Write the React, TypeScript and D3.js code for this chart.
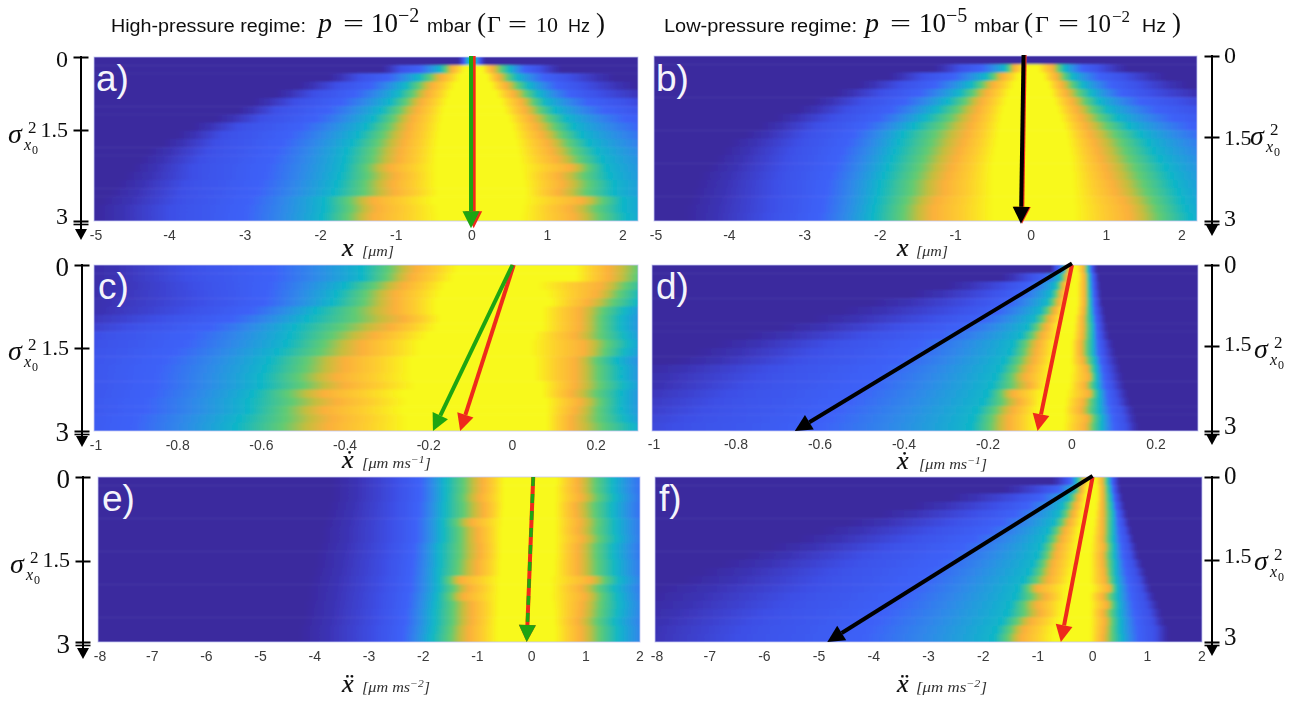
import React, { useMemo } from "react";
import * as d3 from "d3";

type Row = (number | null)[];
const _ = null;

// intensity levels reached at each listed x position of a row (left flank, then right flank)
const rowLevels = [0, 3, 5, 8, 10, 10, 8, 5, 3, 0];
const levelStops = [0, 1, 3, 4, 4.6, 5, 6.5, 7.3, 8, 9, 10];
const levelColors = ["#3a2a9e", "#3b30b0", "#3d4fe6", "#3d62f8", "#2b94e4", "#0fb6c8", "#62cb72", "#c8bd3c", "#fbb03b", "#fdcf2e", "#f8f91a"];

const rowsA: Row[] = [
  [-0.18, -0.12, -0.06, _, _, _, _, 0.06, 0.12, 0.18],
  [-1.2, -0.95, -0.42, -0.26, -0.1, 0.14, 0.27, 0.5, 0.9, 1.2],
  [-1.9, -1.5, -0.7, -0.4, -0.15, 0.2, 0.35, 0.6, 1.3, 1.9],
  [-2.3, -1.8, -0.88, -0.52, -0.22, 0.25, 0.45, 0.75, 1.5, 2.2],
  [-2.6, -2.1, -0.98, -0.58, -0.28, 0.32, 0.55, 0.88, 1.7, 2.6],
  [-2.9, -2.35, -1.08, -0.66, -0.32, 0.38, 0.65, 0.98, 2.1, 3],
  [-3.1, -2.6, -1.2, -0.72, -0.36, 0.42, 0.7, 1.1, 2.4, 3.4],
  [-3.4, -2.8, -1.3, -0.78, -0.38, 0.48, 0.78, 1.25, 2.8, 3.8],
  [-3.7, -3.1, -1.4, -0.82, -0.4, 0.52, 0.85, 1.35, 3.1, 4.1],
  [-3.9, -3.3, -1.5, -0.86, -0.42, 0.55, 0.92, 1.45, 3.4, 4.4],
  [-4.1, -3.4, -1.58, -0.9, -0.44, 0.58, 1.0, 1.55, 3.6, 4.6],
  [-4.3, -3.5, -1.65, -0.94, -0.45, 0.6, 1.05, 1.65, 3.8, 4.8],
  [-4.4, -3.6, -1.68, -0.96, -0.46, 0.62, 1.12, 1.72, 4, 5],
  [-4.5, -3.7, -1.7, -1.08, -0.46, 0.64, 1.3, 1.78, 4.1, 5.1],
  [-4.6, -3.7, -1.74, -1.0, -0.46, 0.66, 1.15, 1.82, 4.2, 5.2],
  [-4.7, -3.8, -1.78, -1.05, -0.46, 0.68, 1.2, 1.88, 4.3, 5.3],
  [-4.8, -3.85, -1.82, -1.02, -0.44, 0.7, 1.15, 1.88, 4.3, 5.3],
  [-4.9, -3.9, -1.95, -1.3, -0.5, 0.68, 1.45, 2.0, 4.4, 5.4],
  [-5, -4, -1.95, -1.25, -0.44, 0.66, 1.3, 2, 4.5, 5.5],
  [-5, -4, -1.98, -1.3, -0.42, 0.64, 1.35, 2.05, 4.5, 5.5],
];

const rowsB: Row[] = [
  [-0.12, -0.1, _, _, _, _, _, _, -0.08, -0.06],
  [-1.3, -0.95, -0.35, -0.22, -0.08, 0.09, 0.28, 0.45, 0.9, 1.3],
  [-1.9, -1.45, -0.6, -0.38, -0.16, 0.16, 0.33, 0.55, 1.25, 1.8],
  [-2.3, -1.75, -0.8, -0.5, -0.22, 0.22, 0.4, 0.68, 1.45, 2.1],
  [-2.6, -2, -0.95, -0.58, -0.28, 0.26, 0.46, 0.8, 1.6, 2.5],
  [-2.9, -2.25, -1.1, -0.65, -0.32, 0.3, 0.54, 0.9, 2, 3],
  [-3.1, -2.45, -1.25, -0.7, -0.36, 0.34, 0.6, 1.02, 2.3, 3.3],
  [-3.4, -2.65, -1.4, -0.75, -0.38, 0.38, 0.66, 1.15, 2.6, 3.6],
  [-3.6, -2.85, -1.55, -0.8, -0.4, 0.42, 0.72, 1.3, 2.9, 3.9],
  [-3.8, -3, -1.7, -0.85, -0.42, 0.46, 0.78, 1.45, 3.2, 4.2],
  [-4, -3.1, -1.75, -0.9, -0.44, 0.48, 0.84, 1.55, 3.5, 4.5],
  [-4.1, -3.2, -1.8, -0.95, -0.46, 0.5, 0.88, 1.62, 3.7, 4.7],
  [-4.2, -3.25, -1.85, -1, -0.48, 0.52, 0.92, 1.7, 3.9, 4.9],
  [-4.3, -3.3, -1.9, -1.05, -0.5, 0.52, 0.98, 1.78, 4, 5],
  [-4.4, -3.35, -1.95, -1.1, -0.5, 0.54, 1.02, 1.85, 4.1, 5.1],
  [-4.45, -3.4, -2.0, -1.15, -0.5, 0.54, 1.08, 1.9, 4.2, 5.2],
  [-4.5, -3.4, -2.02, -1.15, -0.5, 0.55, 1.12, 1.95, 4.3, 5.3],
  [-4.55, -3.45, -2.05, -1.25, -0.5, 0.55, 1.22, 2, 4.3, 5.3],
  [-4.6, -3.45, -2.08, -1.3, -0.5, 0.56, 1.28, 2.05, 4.4, 5.4],
  [-4.6, -3.5, -2.1, -1.3, -0.5, 0.56, 1.3, 2.1, 4.4, 5.4],
];

const rowsC: Row[] = [
  [-1.05, -0.78, -0.36, -0.23, -0.13, 0.15, 0.23, 0.37, 0.6, 0.8],
  [-1.05, -0.78, -0.36, -0.24, -0.14, 0.15, 0.23, 0.36, 0.6, 0.8],
  [-1.05, -0.76, -0.4, -0.26, -0.16, 0.06, 0.21, 0.33, 0.55, 0.8],
  [-1.08, -0.75, -0.42, -0.28, -0.17, 0.08, 0.2, 0.31, 0.52, 0.8],
  [-1.1, -0.75, -0.43, -0.28, -0.18, 0.09, 0.18, 0.3, 0.5, 0.8],
  [-1.1, -0.78, -0.47, -0.28, -0.18, 0.07, 0.16, 0.27, 0.48, 0.8],
  [-1.15, -0.85, -0.49, -0.26, -0.17, 0.07, 0.16, 0.26, 0.48, 0.8],
  [-1.2, -0.92, -0.52, -0.29, -0.18, 0.07, 0.16, 0.26, 0.48, 0.8],
  [-1.25, -1.0, -0.53, -0.33, -0.2, 0.05, 0.15, 0.27, 0.48, 0.8],
  [-1.3, -1.02, -0.54, -0.36, -0.22, 0.04, 0.17, 0.28, 0.5, 0.8],
  [-1.35, -1.05, -0.56, -0.36, -0.22, 0.04, 0.17, 0.27, 0.5, 0.8],
  [-1.35, -1.08, -0.58, -0.4, -0.24, 0.05, 0.15, 0.25, 0.48, 0.8],
  [-1.4, -1.1, -0.59, -0.4, -0.24, 0.05, 0.15, 0.26, 0.48, 0.8],
  [-1.4, -1.1, -0.6, -0.42, -0.24, 0.05, 0.15, 0.26, 0.48, 0.8],
  [-1.4, -1.1, -0.6, -0.4, -0.23, 0.07, 0.15, 0.27, 0.5, 0.8],
  [-1.4, -1.1, -0.62, -0.45, -0.26, 0.07, 0.14, 0.26, 0.48, 0.8],
  [-1.4, -1.12, -0.63, -0.42, -0.25, 0.08, 0.16, 0.26, 0.48, 0.8],
  [-1.4, -1.12, -0.63, -0.45, -0.26, 0.08, 0.15, 0.26, 0.5, 0.8],
  [-1.45, -1.15, -0.65, -0.43, -0.25, 0.08, 0.14, 0.27, 0.5, 0.8],
  [-1.45, -1.15, -0.66, -0.44, -0.25, 0.08, 0.14, 0.29, 0.5, 0.8],
];

const rowsD: Row[] = [
  [-0.05, -0.04, -0.02, -0.01, 0, 0.012, 0.027, 0.04, 0.05, 0.06],
  [-0.17, -0.1, -0.03, -0.012, 0, 0.014, 0.03, 0.042, 0.055, 0.065],
  [-0.3, -0.16, -0.04, -0.02, -0.005, 0.012, 0.03, 0.043, 0.056, 0.068],
  [-0.38, -0.2, -0.05, -0.025, -0.008, 0.012, 0.03, 0.044, 0.058, 0.07],
  [-0.48, -0.24, -0.06, -0.03, -0.012, 0.012, 0.03, 0.045, 0.06, 0.072],
  [-0.55, -0.28, -0.075, -0.04, -0.02, 0.01, 0.028, 0.046, 0.062, 0.078],
  [-0.62, -0.34, -0.09, -0.05, -0.025, 0.006, 0.025, 0.048, 0.065, 0.082],
  [-0.7, -0.42, -0.105, -0.06, -0.03, 0.004, 0.025, 0.05, 0.067, 0.086],
  [-0.78, -0.5, -0.12, -0.07, -0.03, 0.002, 0.024, 0.05, 0.07, 0.09],
  [-0.85, -0.58, -0.14, -0.08, -0.04, -0.002, 0.02, 0.05, 0.075, 0.1],
  [-0.9, -0.62, -0.145, -0.085, -0.04, -0.002, 0.02, 0.05, 0.078, 0.105],
  [-0.95, -0.66, -0.16, -0.09, -0.045, -0.004, 0.025, 0.055, 0.082, 0.112],
  [-1.05, -0.72, -0.17, -0.1, -0.05, -0.002, 0.035, 0.058, 0.088, 0.118],
  [-1.1, -0.75, -0.18, -0.11, -0.05, -0.006, 0.04, 0.06, 0.092, 0.124],
  [-1.1, -0.78, -0.19, -0.1, -0.06, -0.007, 0.03, 0.06, 0.097, 0.128],
  [-1.15, -0.82, -0.2, -0.14, -0.07, -0.014, 0.04, 0.065, 0.105, 0.135],
  [-1.2, -0.85, -0.21, -0.125, -0.075, -0.017, 0.025, 0.065, 0.11, 0.14],
  [-1.25, -0.88, -0.225, -0.14, -0.08, -0.02, 0.02, 0.065, 0.12, 0.15],
  [-1.3, -0.92, -0.235, -0.15, -0.085, -0.02, 0.035, 0.07, 0.125, 0.155],
  [-1.3, -0.95, -0.24, -0.15, -0.085, -0.022, 0.03, 0.07, 0.13, 0.16],
];

const rowsE: Row[] = [
  [-3.7, -2.5, -1.6, -0.9, -0.5, 0.45, 0.85, 1.5, 2.7, 3.8],
  [-3.7, -2.5, -1.6, -0.9, -0.5, 0.42, 0.85, 1.5, 2.7, 3.8],
  [-3.7, -2.5, -1.6, -0.95, -0.5, 0.42, 0.9, 1.55, 2.7, 3.8],
  [-3.75, -2.55, -1.62, -0.88, -0.5, 0.42, 0.8, 1.5, 2.7, 3.8],
  [-3.8, -2.55, -1.62, -0.88, -0.52, 0.42, 0.82, 1.5, 2.7, 3.8],
  [-3.85, -2.6, -1.65, -1.1, -0.52, 0.42, 0.88, 1.55, 2.8, 3.9],
  [-3.9, -2.6, -1.65, -0.98, -0.55, 0.42, 0.85, 1.55, 2.8, 3.9],
  [-3.9, -2.6, -1.65, -0.98, -0.55, 0.42, 0.92, 1.58, 2.8, 3.9],
  [-3.95, -2.65, -1.7, -0.95, -0.55, 0.42, 0.85, 1.52, 2.8, 3.9],
  [-4, -2.65, -1.7, -0.95, -0.55, 0.42, 0.85, 1.52, 2.8, 3.9],
  [-4, -2.7, -1.7, -1.0, -0.56, 0.4, 0.85, 1.55, 2.85, 4],
  [-4.05, -2.7, -1.72, -1.0, -0.56, 0.4, 0.85, 1.55, 2.85, 4],
  [-4.1, -2.75, -1.72, -1.3, -0.58, 0.34, 1.08, 1.62, 2.9, 4],
  [-4.15, -2.75, -1.72, -1.15, -0.58, 0.36, 0.9, 1.55, 2.9, 4],
  [-4.15, -2.8, -1.75, -1.25, -0.58, 0.34, 0.98, 1.6, 2.9, 4],
  [-4.2, -2.8, -1.78, -1.1, -0.6, 0.38, 0.92, 1.62, 3, 4.1],
  [-4.2, -2.85, -1.8, -1.1, -0.6, 0.4, 0.9, 1.6, 3, 4.1],
  [-4.25, -2.85, -1.8, -1.1, -0.62, 0.4, 0.85, 1.55, 3, 4.1],
  [-4.3, -2.9, -1.82, -1.15, -0.62, 0.42, 0.9, 1.6, 3, 4.1],
  [-4.3, -2.9, -1.85, -1.15, -0.62, 0.42, 0.9, 1.6, 3, 4.1],
];

const rowsF: Row[] = [
  [-0.75, -0.5, -0.3, -0.15, -0.08, 0.06, 0.17, 0.3, 0.4, 0.5],
  [-1.65, -0.9, -0.35, -0.2, -0.1, 0.08, 0.18, 0.32, 0.42, 0.52],
  [-2.6, -1.4, -0.45, -0.25, -0.12, 0.08, 0.18, 0.34, 0.45, 0.56],
  [-3.3, -1.8, -0.55, -0.3, -0.14, 0.06, 0.18, 0.36, 0.48, 0.6],
  [-3.9, -2.2, -0.62, -0.35, -0.18, 0.04, 0.18, 0.38, 0.52, 0.64],
  [-4.5, -2.6, -0.7, -0.42, -0.2, 0.02, 0.18, 0.38, 0.56, 0.68],
  [-5, -3, -0.8, -0.5, -0.24, 0, 0.18, 0.38, 0.6, 0.72],
  [-5.4, -3.4, -0.88, -0.55, -0.26, -0.02, 0.17, 0.38, 0.64, 0.76],
  [-5.9, -3.8, -0.95, -0.62, -0.28, -0.04, 0.2, 0.4, 0.67, 0.82],
  [-6.4, -4.2, -1, -0.66, -0.3, -0.05, 0.17, 0.4, 0.7, 0.85],
  [-6.8, -4.5, -1.08, -0.72, -0.32, -0.05, 0.18, 0.42, 0.75, 0.92],
  [-7.2, -4.8, -1.15, -0.75, -0.36, -0.05, 0.2, 0.42, 0.8, 0.98],
  [-7.5, -5, -1.25, -0.8, -0.4, -0.06, 0.22, 0.44, 0.85, 1.03],
  [-8, -5.2, -1.35, -1.0, -0.45, -0.02, 0.3, 0.46, 0.9, 1.08],
  [-8.2, -5.5, -1.4, -0.85, -0.48, -0.06, 0.18, 0.46, 0.95, 1.15],
  [-8.4, -5.7, -1.5, -1.0, -0.52, -0.05, 0.26, 0.48, 1.0, 1.22],
  [-8.6, -6, -1.55, -0.95, -0.55, -0.05, 0.18, 0.48, 1.05, 1.28],
  [-8.8, -6.2, -1.65, -1.12, -0.6, -0.05, 0.22, 0.5, 1.1, 1.32],
  [-9, -6.4, -1.75, -1.25, -0.68, -0.05, 0.2, 0.5, 1.15, 1.4],
  [-9, -6.5, -1.8, -1.3, -0.7, -0.05, 0.18, 0.52, 1.15, 1.4],
];

const xTicksAB = [-5, -4, -3, -2, -1, 0, 1, 2];
const xTicksCD = [-1, -0.8, -0.6, -0.4, -0.2, 0, 0.2];
const xTicksEF = [-8, -7, -6, -5, -4, -3, -2, -1, 0, 1, 2];
const sigmaTicks = [0, 1.5, 3];

type Arrow = [number, number, number, number, string, boolean];
const RED = "#ee2a1c", GREEN = "#1ea512", BLACK = "#000000";
const arrowsA: Arrow[] = [[0.025, -0.02, 0.025, 3.12, RED, false], [-0.01, -0.02, -0.01, 3.12, GREEN, false]];
const arrowsB: Arrow[] = [[-0.085, -0.02, -0.12, 3.05, RED, false], [-0.1, -0.02, -0.135, 3.05, BLACK, false]];
const arrowsC: Arrow[] = [[0.003, 0, -0.125, 3, RED, false], [0, 0, -0.19, 3, GREEN, false]];
const arrowsD: Arrow[] = [[0, 0, -0.082, 3, RED, false], [0, -0.03, -0.66, 3, BLACK, false]];
const arrowsE: Arrow[] = [[0.03, 0, -0.09, 3, RED, false], [0.03, 0, -0.09, 3, GREEN, true]];
const arrowsF: Arrow[] = [[0, 0, -0.58, 3, RED, false], [0, -0.02, -4.85, 3, BLACK, false]];

type Panel = {
  id: string; label: string; rows: Row[]; arrows: Arrow[];
  xDomain: [number, number]; xRange: [number, number];
  yRange: [number, number, number]; ticks: number[];
  side: "l" | "r"; axisX: number; axisEnd: number; tickBase: number[]; tickBaseY: number; endSize: number;
  sigmaX: number; sigmaY: number; labelX: number; labelY: number;
  varName: string; unit: string; sup: string; varX: number; varY: number; unitX: number; unitW: number;
};

const panels: Panel[] = [
  { id: "a", label: "a)", rows: rowsA, arrows: arrowsA, xDomain: [-5, 2.2], xRange: [94, 638], yRange: [57, 130, 221], ticks: xTicksAB, side: "l", axisX: 81, axisEnd: 240, tickBase: [67, 137, 224], tickBaseY: 240, endSize: 24, sigmaX: 8, sigmaY: 143, labelX: 96, labelY: 91, varName: "x", unit: "[μm]", sup: "", varX: 342, varY: 256, unitX: 362, unitW: 32 },
  { id: "b", label: "b)", rows: rowsB, arrows: arrowsB, xDomain: [-5, 2.2], xRange: [654, 1197], yRange: [56, 137, 221], ticks: xTicksAB, side: "r", axisX: 1212, axisEnd: 236, tickBase: [63, 145, 226], tickBaseY: 240, endSize: 24, sigmaX: 1250, sigmaY: 145, labelX: 656, labelY: 91, varName: "x", unit: "[μm]", sup: "", varX: 897, varY: 256, unitX: 916, unitW: 32 },
  { id: "c", label: "c)", rows: rowsC, arrows: arrowsC, xDomain: [-1, 0.3], xRange: [94, 638], yRange: [265, 348, 431], ticks: xTicksCD, side: "l", axisX: 82, axisEnd: 447, tickBase: [276, 355, 441], tickBaseY: 450, endSize: 27, sigmaX: 8, sigmaY: 360, labelX: 98, labelY: 299, varName: "x\u0307", unit: "[μm ms", sup: "−1", varX: 342, varY: 468, unitX: 362, unitW: 69 },
  { id: "d", label: "d)", rows: rowsD, arrows: arrowsD, xDomain: [-1, 0.3], xRange: [652, 1198], yRange: [265, 346, 431], ticks: xTicksCD, side: "r", axisX: 1212, axisEnd: 445, tickBase: [273, 351, 434], tickBaseY: 449, endSize: 25, sigmaX: 1254, sigmaY: 358, labelX: 656, labelY: 299, varName: "x\u0307", unit: "[μm ms", sup: "−1", varX: 897, varY: 469, unitX: 919, unitW: 68 },
  { id: "e", label: "e)", rows: rowsE, arrows: arrowsE, xDomain: [-8, 2], xRange: [98, 640], yRange: [477, 561, 642], ticks: xTicksEF, side: "l", axisX: 83, axisEnd: 659, tickBase: [488, 567, 653], tickBaseY: 661, endSize: 27, sigmaX: 10, sigmaY: 573, labelX: 102, labelY: 511, varName: "x\u0308", unit: "[μm ms", sup: "−2", varX: 342, varY: 692, unitX: 362, unitW: 68 },
  { id: "f", label: "f)", rows: rowsF, arrows: arrowsF, xDomain: [-8, 2], xRange: [655, 1202], yRange: [477, 560, 642], ticks: xTicksEF, side: "r", axisX: 1212, axisEnd: 656, tickBase: [484, 563, 645], tickBaseY: 661, endSize: 25, sigmaX: 1254, sigmaY: 570, labelX: 659, labelY: 511, varName: "x\u0308", unit: "[μm ms", sup: "−2", varX: 897, varY: 692, unitX: 916, unitW: 71 },
];

const color = d3.scaleLinear<string>().domain(levelStops).range(levelColors).interpolate(d3.interpolateRgb).clamp(true);

const SERIF = "'Liberation Serif', 'DejaVu Serif', serif";
const SANS = "'Liberation Sans', Arial, sans-serif";

function rowStops(row: Row, x: (v: number) => number) {
  const pts: { px: number; c: string }[] = [];
  let prev: { px: number; l: number } | null = null;
  row.forEach((v, i) => {
    if (v === null) return;
    const px = x(v), l = rowLevels[i];
    if (prev) {
      for (let k = 1; k < 8; k++) {
        const t = k / 8;
        pts.push({ px: prev.px + (px - prev.px) * t, c: color(prev.l + (l - prev.l) * t) });
      }
    }
    pts.push({ px, c: color(l) });
    prev = { px, l };
  });
  const a = pts[0].px, b = pts[pts.length - 1].px;
  return { a, b, stops: pts.map((p) => ({ o: (p.px - a) / (b - a), c: p.c })) };
}

function Sigma({ x, y }: { x: number; y: number }) {
  return (
    <g fontFamily={SERIF} fill="#111">
      <text x={x} y={y} fontSize={28} fontStyle="italic">σ</text>
      <text x={x + 20} y={y - 10} fontSize={17}>2</text>
      <text x={x + 16} y={y + 7} fontSize={16} fontStyle="italic">x</text>
      <text x={x + 24} y={y + 11} fontSize={12}>0</text>
    </g>
  );
}

function PanelView({ p }: { p: Panel }) {
  const x = d3.scaleLinear().domain(p.xDomain).range(p.xRange);
  const y = d3.scaleLinear().domain(sigmaTicks).range(p.yRange);
  const [x0, x1] = p.xRange;
  const y0 = p.yRange[0], y1 = p.yRange[2];
  const band = d3.scaleBand<number>().domain(d3.range(p.rows.length)).range([y0, y1]);
  const left = p.side === "l";
  return (
    <g>
      <clipPath id={`clip-${p.id}`}><rect x={x0} y={y0} width={x1 - x0} height={y1 - y0} /></clipPath>
      <defs>
        {p.rows.map((r, i) => {
          const s = rowStops(r, x);
          return (
            <linearGradient key={i} id={`g-${p.id}-${i}`} gradientUnits="userSpaceOnUse" x1={s.a} x2={s.b} y1={0} y2={0}>
              {s.stops.map((st, j) => <stop key={j} offset={st.o} stopColor={st.c} />)}
            </linearGradient>
          );
        })}
      </defs>
      <g clipPath={`url(#clip-${p.id})`}>
        <g filter="url(#rowBlur)">
          {p.rows.map((_r, i) => {
            const top = i === 0 ? y0 - 6 : band(i)!;
            const bot = i === p.rows.length - 1 ? y1 + 6 : band(i)! + band.bandwidth();
            return <rect key={i} x={x0 - 6} y={top} width={x1 - x0 + 12} height={bot - top + 0.5} fill={`url(#g-${p.id}-${i})`} />;
          })}
        </g>
      </g>
      <rect x={x0} y={y0} width={x1 - x0} height={y1 - y0} fill="none" stroke="#c4c8f2" strokeWidth={1} opacity={0.8} />
      <text x={p.labelX} y={p.labelY} fontFamily={SANS} fontSize={37} fill="#f4f4fb">{p.label}</text>

      {p.arrows.map((a, i) => {
        const ax = x(a[0]), ay = y(a[1]), bx = x(a[2]), by = y(a[3]);
        const len = Math.hypot(bx - ax, by - ay), ux = (bx - ax) / len, uy = (by - ay) / len;
        const hl = 17, hw = 8.5;
        const nx = -uy, ny = ux;
        const mx = bx - ux * hl, my = by - uy * hl;
        return (
          <g key={i}>
            <line x1={ax} y1={ay} x2={mx} y2={my} stroke={a[4]} strokeWidth={a[5] ? 3.5 : 4} strokeDasharray={a[5] ? "9 8" : undefined} />
            <polygon points={`${bx},${by} ${mx + nx * hw},${my + ny * hw} ${mx - nx * hw},${my - ny * hw}`} fill={a[4]} />
          </g>
        );
      })}

      <g filter="url(#textBlur)">
        <line x1={p.axisX} x2={p.axisX} y1={y0 - 1} y2={p.axisEnd - 8} stroke="#000" strokeWidth={2} />
        <polygon points={`${p.axisX - 6},${p.axisEnd - 11} ${p.axisX + 6},${p.axisEnd - 11} ${p.axisX},${p.axisEnd}`} fill="#000" />
        {sigmaTicks.map((t) => (
          <line key={t} x1={p.axisX - 7.5} x2={p.axisX + 7.5} y1={y(t) + 0.5} y2={y(t) + 0.5} stroke="#000" strokeWidth={2} />
        ))}
        <line x1={p.axisX - 7.5} x2={p.axisX + 7.5} y1={y1 + 3.5} y2={y1 + 3.5} stroke="#000" strokeWidth={1.6} />
        {sigmaTicks.map((t, i) => (
          <text key={t} x={left ? p.axisX - 13 : p.axisX + 12} y={p.tickBase[i]} textAnchor={left ? "end" : "start"} fontFamily={SERIF} fontSize={i === 1 ? 22 : p.endSize} fill="#111">{t}</text>
        ))}
        <Sigma x={p.sigmaX} y={p.sigmaY} />
        {p.ticks.map((t) => (
          <text key={t} x={x(t) + (t === p.xDomain[0] ? 2 : 0)} y={p.tickBaseY} textAnchor="middle" fontFamily={SANS} fontSize={14} fill="#3a3a3a">{String(t)}</text>
        ))}
        <text x={p.varX} y={p.varY} fontFamily={SERIF} fontStyle="italic" fontSize={26} stroke="#111" strokeWidth={0.2} fill="#111">{p.varName}</text>
        <text x={p.unitX} y={p.varY} fontFamily={SERIF} fontStyle="italic" fontSize={14} fill="#333" textLength={p.unitW} lengthAdjust="spacingAndGlyphs">
          {p.unit}
          {p.sup ? <tspan dy={-5} fontSize={10}>{p.sup}</tspan> : null}
          {p.sup ? <tspan dy={5}>]</tspan> : null}
        </text>
      </g>
    </g>
  );
}

const titleLeftWords = ["High-pressure regime:", "mbar", "Hz"];
const titleRightWords = ["Low-pressure regime:", "mbar", "Hz"];

function Title() {
  const M = (x: number, s: string, size = 26, italic = false, yy = 32, w?: number) => (
    <text x={x} y={yy} fontFamily={SERIF} fontSize={size} fontStyle={italic ? "italic" : "normal"} fill="#111" textLength={w} lengthAdjust={w ? "spacingAndGlyphs" : undefined}>{s}</text>
  );
  const S = (x: number, s: string, w: number, yy = 32, size = 18) => (
    <text x={x} y={yy} fontFamily={SANS} fontSize={size} fill="#111" textLength={w} lengthAdjust="spacingAndGlyphs">{s}</text>
  );
  return (
    <g filter="url(#textBlur)">
      {S(111, titleLeftWords[0], 195)}
      {M(318, "p", 28, true)}
      {M(343, "=", 26, false, 32, 21)}
      {M(371, "10", 27)}
      {M(398, "−2", 20, false, 22)}
      {S(427, titleLeftWords[1], 44)}
      {M(477, "(", 27)}
      {M(487, "Γ", 24)}
      {M(508, "=", 24, false, 32, 19)}
      {M(536, "10", 22)}
      {S(568, titleLeftWords[2], 22)}
      {M(596, ")", 27)}

      {S(664, titleRightWords[0], 193)}
      {M(865, "p", 28, true)}
      {M(890, "=", 26, false, 32, 21)}
      {M(919, "10", 27)}
      {M(946, "−5", 20, false, 22)}
      {S(974, titleRightWords[1], 45)}
      {M(1024, "(", 27)}
      {M(1035, "Γ", 24)}
      {M(1058, "=", 26, false, 32, 21)}
      {M(1086, "10", 25)}
      {M(1112, "−2", 17, false, 22)}
      {S(1142, titleRightWords[2], 24)}
      {M(1172, ")", 27)}
    </g>
  );
}

export default function App() {
  const content = useMemo(() => panels.map((p) => <PanelView key={p.id} p={p} />), []);
  return (
    <svg width={1301} height={703} style={{ position: "absolute", left: 0, top: 0, background: "#fff" }}>
      <defs>
        <filter id="rowBlur" x="-5%" y="-10%" width="110%" height="120%">
          <feGaussianBlur stdDeviation="1.5 1.1" />
        </filter>
        <filter id="textBlur" filterUnits="userSpaceOnUse" x="0" y="0" width="1301" height="703">
          <feGaussianBlur stdDeviation="0.4" />
        </filter>
      </defs>
      <Title />
      {content}
    </svg>
  );
}
